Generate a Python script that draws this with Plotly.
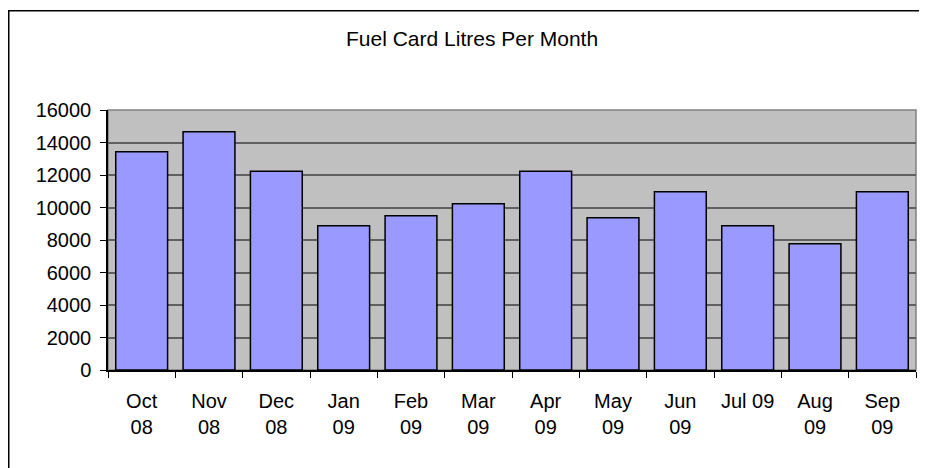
import plotly.graph_objects as go

months = ["Oct<br>08", "Nov<br>08", "Dec<br>08", "Jan<br>09", "Feb<br>09", "Mar<br>09",
          "Apr<br>09", "May<br>09", "Jun<br>09", "Jul 09", "Aug<br>09", "Sep<br>09"]
litres = [13430, 14660, 12230, 8880, 9490, 10230, 12230, 9370, 10970, 8880, 7770, 10970]
y_ticks = [0, 2000, 4000, 6000, 8000, 10000, 12000, 14000, 16000]

# page is offset by 8px body margin
OFF = 8
W, H = 927 - OFF, 468 - OFF
L, R, T, B = 108 - OFF, 11, 110 - OFF, 98
pw, ph = W - L - R, H - T - B

def px(x):
    return (x - OFF - L) / pw

def py(y):
    return (H - B - (y - OFF)) / ph

FONT = "Liberation Sans, Arial, sans-serif"

fig = go.Figure(go.Bar(
    x=months, y=litres,
    marker=dict(color="#9999FF", line=dict(color="black", width=1.5)),
))

fig.update_layout(
    width=W, height=H,
    margin=dict(l=L, r=R, t=T, b=B, pad=0),
    paper_bgcolor="white",
    plot_bgcolor="#C0C0C0",
    bargap=0.23,
    showlegend=False,
    font=dict(family=FONT, size=20, color="black"),
    shapes=[
        dict(type="rect", xref="paper", yref="paper", x0=0, x1=1, y0=0, y1=1,
             line=dict(color="#808080", width=1.5), layer="below"),
        dict(type="rect", xref="paper", yref="paper", x0=px(8.75), x1=px(940), y0=py(480), y1=py(10.75),
             line=dict(color="black", width=1.5)),
    ],
    annotations=[
        dict(text="Fuel Card Litres Per Month", xref="paper", yref="paper",
             x=px(472), y=py(38), xanchor="center", yanchor="middle",
             showarrow=False, font=dict(family=FONT, size=21, color="black")),
    ],
)

fig.update_xaxes(
    tickson="boundaries", ticks="outside", ticklen=6, tickcolor="black", tickwidth=1,
    showline=True, linecolor="black", linewidth=1.5, ticklabelstandoff=12,
    showgrid=False, tickfont=dict(family=FONT, size=20, color="black"),
)
fig.update_yaxes(
    range=[0, 16000], tickvals=y_ticks, tickformat="d", ticks="outside", ticklen=6,
    tickcolor="black", ticklabelstandoff=5,
    tickwidth=1, showline=True, linecolor="black", linewidth=1.5,
    showgrid=True, gridcolor="#606060", gridwidth=1.5, zeroline=False,
    tickfont=dict(family=FONT, size=20, color="black"),
)

fig.write_html("out.html")
